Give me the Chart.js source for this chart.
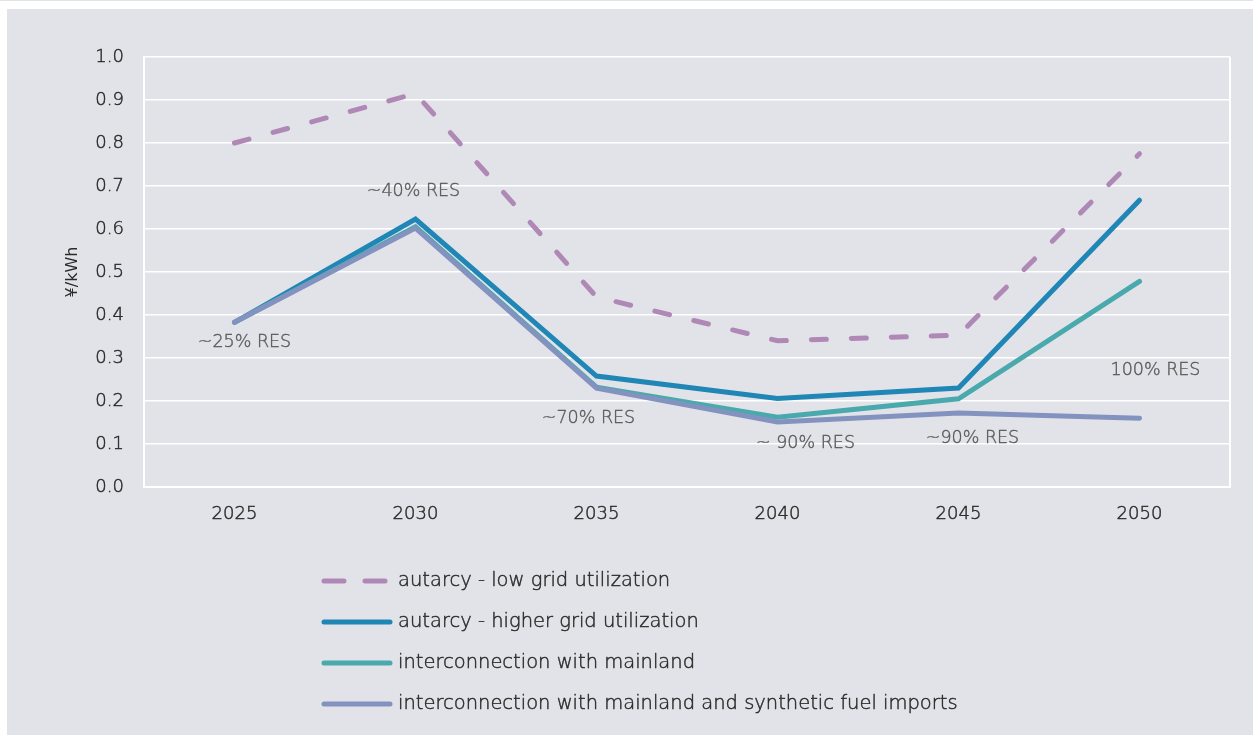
<!DOCTYPE html>
<html>
<head>
<meta charset="utf-8">
<script src="https://cdn.jsdelivr.net/npm/chart.js@4.4.1/dist/chart.umd.min.js"></script>
<style>
  html, body { margin: 0; padding: 0; background: #ffffff; }
  #c { display: block; }
</style>
</head>
<body>
<canvas id="c" width="1253" height="735"></canvas>
<script>
// ---- data ----
const years = ['2025', '2030', '2035', '2040', '2045', '2050'];
const seriesNames = [
  'autarcy - low grid utilization',
  'autarcy - higher grid utilization',
  'interconnection with mainland',
  'interconnection with mainland and synthetic fuel imports'
];
const autarcyLow = [0.80, 0.915, 0.442, 0.340, 0.353, 0.775];
const autarcyHigh = [0.383, 0.623, 0.258, 0.206, 0.230, 0.667];
const interconnection = [0.383, 0.605, 0.232, 0.162, 0.205, 0.478];
const syntheticImports = [0.383, 0.602, 0.230, 0.151, 0.172, 0.160];
const yTicks = [0.0, 0.1, 0.2, 0.3, 0.4, 0.5, 0.6, 0.7, 0.8, 0.9, 1.0];
const resLabels = ['~25% RES', '~40% RES', '~70% RES', '~ 90% RES', '~90% RES', '100% RES'];
// annotation anchors: value on y-axis where label sits (data units)
const resLabelValues = [0.337, 0.688, 0.160, 0.102, 0.112, 0.270];

// ---- layout/style ----
const resLabelDx = [10, -2, -8, 28, 14, 16];
const FONT = '"DejaVu Sans", "Open Sans", sans-serif';
const PANEL = '#e1e3e8';
const TXT = '#2b2b2b';

const bgPlugin = {
  id: 'bg',
  beforeDraw(chart) {
    const ctx = chart.ctx;
    ctx.save();
    ctx.fillStyle = '#ffffff';
    ctx.fillRect(0, 0, chart.width, chart.height);
    ctx.fillStyle = PANEL;
    ctx.fillRect(0, 0, chart.width, 1);
    ctx.fillRect(7, 9, chart.width - 7, chart.height - 9);
    ctx.restore();
  },
  beforeDatasetsDraw(chart) {
    const ctx = chart.ctx, a = chart.chartArea;
    ctx.save();
    ctx.strokeStyle = '#ffffff';
    ctx.lineWidth = 2;
    ctx.beginPath();
    ctx.moveTo(a.right, a.top);
    ctx.lineTo(a.right, a.bottom);
    ctx.stroke();
    ctx.restore();
  }
};

function thinText(ctx, t, x, y, color, sw) {
  ctx.fillStyle = color;
  ctx.strokeStyle = color;
  ctx.lineWidth = sw;
  ctx.lineJoin = 'round';
  ctx.strokeText(t, x, y);
  ctx.fillText(t, x, y);
}

const annoPlugin = {
  id: 'anno',
  afterDatasetsDraw(chart) {
    const ctx = chart.ctx;
    const xs = chart.scales.x, ys = chart.scales.y;
    ctx.save();
    ctx.font = '200 17.5px ' + FONT;
    ctx.textAlign = 'center';
    ctx.textBaseline = 'middle';
    ctx.setLineDash([]);
    resLabels.forEach((t, i) => {
      thinText(ctx, t, xs.getPixelForValue(i) + resLabelDx[i], ys.getPixelForValue(resLabelValues[i]), '#5a5a5a', 0.4);
    });
    ctx.restore();
  }
};

const legendPlugin = {
  id: 'stackLegend',
  afterDraw(chart) {
    const ctx = chart.ctx;
    ctx.save();
    ctx.font = '200 19.5px ' + FONT;
    ctx.textBaseline = 'middle';
    ctx.textAlign = 'left';
    chart.data.datasets.forEach((ds, i) => {
      const y = 581 + i * 41;
      ctx.strokeStyle = ds.borderColor;
      ctx.lineWidth = 5;
      ctx.lineCap = 'round';
      ctx.setLineDash(ds.borderDash && ds.borderDash.length ? [20, 21] : []);
      ctx.beginPath();
      ctx.moveTo(324, y);
      ctx.lineTo(390, y);
      ctx.stroke();
      ctx.setLineDash([]);
      ctx.lineCap = 'butt';
      thinText(ctx, ds.label, 398, y, TXT, 0.45);
    });
    ctx.restore();
  }
};

const common = { fill: false, pointRadius: 0, pointHoverRadius: 0, borderWidth: 5, tension: 0, borderCapStyle: 'round' };
const tickFont = { family: FONT, size: 18, weight: 200 };

new Chart(document.getElementById('c'), {
  type: 'line',
  data: {
    labels: years,
    datasets: [
      Object.assign({}, common, { label: seriesNames[0], data: autarcyLow, borderColor: '#b088b5', borderDash: [15, 25], order: 4 }),
      Object.assign({}, common, { label: seriesNames[1], data: autarcyHigh, borderColor: '#1f86b6', order: 3 }),
      Object.assign({}, common, { label: seriesNames[2], data: interconnection, borderColor: '#4aa9ac', order: 2 }),
      Object.assign({}, common, { label: seriesNames[3], data: syntheticImports, borderColor: '#8492c0', order: 1 })
    ]
  },
  options: {
    responsive: false,
    animation: false,
    layout: { padding: { left: 0, right: 23, top: 57, bottom: 200 } },
    plugins: {
      legend: { display: false },
      tooltip: { enabled: false }
    },
    scales: {
      x: {
        type: 'category',
        offset: true,
        grid: { display: false, drawTicks: false },
        border: { display: true, color: '#ffffff', width: 2 },
        ticks: { color: TXT, font: tickFont, padding: 17, maxRotation: 0, textStrokeColor: TXT, textStrokeWidth: 0.45 },
        afterFit(s) { s.height = 48; }
      },
      y: {
        min: 0, max: 1,
        afterBuildTicks(s) { s.ticks = yTicks.map(v => ({ value: v })); },
        grid: { color: '#ffffff', lineWidth: 1.5, drawTicks: false },
        border: { display: true, color: '#ffffff', width: 2 },
        ticks: { color: TXT, font: tickFont, padding: 20, textStrokeColor: TXT, textStrokeWidth: 0.45,
                 callback: v => Number(v).toFixed(1) },
        title: { display: true, text: '¥/kWh', color: TXT, font: { family: FONT, size: 16, weight: 400 }, padding: { top: 63, bottom: 0 } },
        afterFit(s) { s.width = 144; }
      }
    }
  },
  plugins: [bgPlugin, annoPlugin, legendPlugin]
});
</script>
</body>
</html>
